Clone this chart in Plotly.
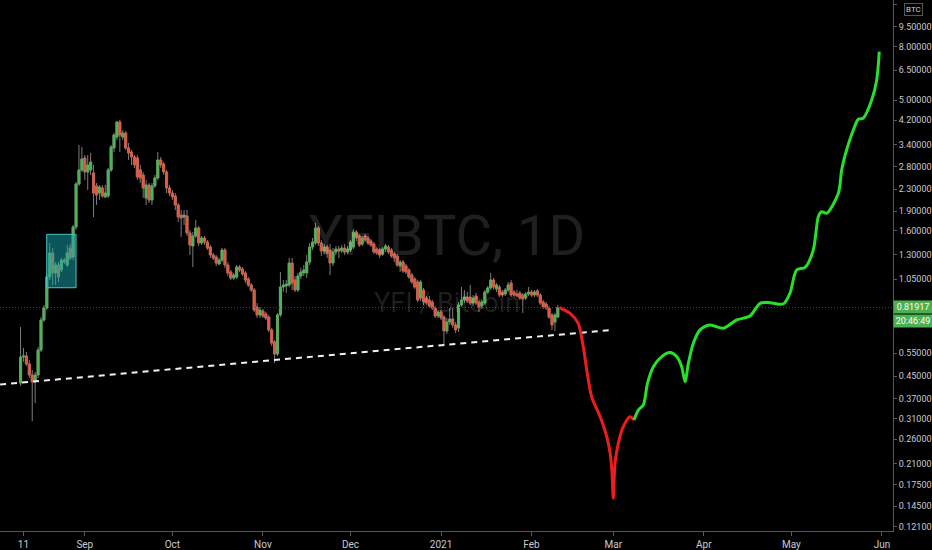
import numpy as np
import pandas as pd
import plotly.graph_objects as go

# ---------------- data ----------------
start_date = "2020-08-10"

open_ = [0.424,0.532,0.537,0.501,0.455,0.428,0.455,0.566,0.735,0.816,
         1.070,1.319,1.108,1.188,1.137,1.240,1.188,1.377,1.273,1.654,
         2.408,2.721,3.021,2.674,2.721,2.651,2.367,2.226,2.326,2.150,
         2.169,2.721,3.297,3.629,4.136,3.629,3.757,3.297,3.183,3.047,
         3.021,2.721,2.605,2.131,2.387,2.094,2.367,2.538,2.969,2.867,
         2.674,2.326,2.226,2.169,2.005,1.837,1.805,1.821,1.570,1.402,
         1.530,1.640,1.439,1.503,1.451,1.389,1.296,1.273,1.198,1.240,
         1.354,1.188,1.117,1.060,1.070,1.167,1.147,1.108,1.051,0.9975,
         0.955,0.823,0.768,0.795,0.774,0.754,0.674,0.607,0.546,0.768,
         0.980,0.989,0.9975,1.208,1.042,0.955,1.079,1.108,1.108,1.219,
         1.389,1.439,1.640,1.439,1.342,1.389,1.354,1.208,1.330,1.365,
         1.342,1.377,1.330,1.354,1.389,1.584,1.530,1.426,1.530,1.503,
         1.464,1.426,1.365,1.354,1.307,1.365,1.389,1.354,1.307,1.285,
         1.177,1.219,1.177,1.137,1.088,1.051,1.024,0.890,0.955,0.890,
         0.875,0.860,0.816,0.761,0.788,0.754,0.668,0.722,0.741,0.704,
         0.685,0.838,0.875,0.898,0.898,0.852,0.906,0.860,0.830,0.852,
         0.938,0.972,1.042,0.963,0.980,0.938,0.922,0.955,1.015,0.938,
         0.922,0.930,0.914,0.890,0.922,0.938,0.914,0.947,0.914,0.860,
         0.845,0.816,0.768,0.722,0.754]

high = [0.691,0.576,0.556,0.519,0.475,0.467,0.581,0.754,0.838,1.098,
        1.439,1.377,1.219,1.219,1.262,1.262,1.414,1.426,1.684,2.451,
        3.384,3.326,3.101,3.101,3.156,2.842,2.429,2.387,2.387,2.387,
        2.769,3.384,3.757,4.172,4.209,3.857,3.824,3.444,3.239,3.101,
        3.101,2.842,2.674,2.494,2.429,2.429,2.605,3.183,3.047,2.917,
        2.721,2.387,2.285,2.226,2.040,1.919,1.919,1.919,1.612,1.584,
        1.759,1.669,1.530,1.530,1.477,1.414,1.319,1.296,1.262,1.377,
        1.377,1.219,1.137,1.108,1.188,1.188,1.167,1.127,1.070,1.015,
        0.972,0.852,0.823,0.809,0.788,0.768,0.685,0.617,0.781,1.117,
        1.042,1.042,1.262,1.262,1.079,1.108,1.157,1.188,1.296,1.439,
        1.503,1.713,1.669,1.477,1.426,1.414,1.426,1.377,1.402,1.402,
        1.414,1.426,1.402,1.477,1.626,1.612,1.556,1.530,1.556,1.530,
        1.490,1.451,1.389,1.377,1.389,1.426,1.414,1.377,1.330,1.307,
        1.240,1.240,1.198,1.157,1.108,1.070,1.042,1.042,0.972,0.906,
        0.906,0.875,0.830,0.802,0.802,0.768,0.748,0.816,0.816,0.722,
        0.860,0.980,0.955,0.938,0.9975,0.914,0.930,0.875,0.875,0.955,
        0.989,1.108,1.060,1.015,0.9975,0.955,0.972,1.024,1.042,0.955,
        0.955,0.947,0.930,0.938,0.980,0.955,0.955,0.963,0.930,0.875,
        0.860,0.830,0.781,0.781,0.838]

low = [0.413,0.510,0.492,0.443,0.304,0.356,0.443,0.556,0.722,0.802,
       1.042,0.9975,0.9975,1.024,1.117,1.198,1.167,1.240,1.240,1.612,
       2.367,2.674,2.494,2.285,2.605,1.805,2.005,2.094,2.131,2.131,
       2.131,2.674,3.183,3.535,3.183,3.535,3.239,2.969,2.842,2.769,
       2.494,2.429,2.131,2.005,2.040,2.005,2.326,2.494,2.769,2.605,
       2.226,2.169,2.094,1.919,1.728,1.516,1.684,1.530,1.296,1.167,
       1.503,1.402,1.414,1.414,1.354,1.262,1.240,1.177,1.188,1.219,
       1.157,1.079,1.042,1.042,1.051,1.117,1.079,1.015,0.980,0.938,
       0.788,0.748,0.748,0.748,0.735,0.662,0.586,0.505,0.537,0.754,
       0.938,0.930,0.980,0.955,0.938,0.938,1.051,1.079,1.060,1.188,
       1.354,1.414,1.402,1.285,1.307,1.262,1.088,1.177,1.296,1.262,
       1.319,1.296,1.307,1.330,1.365,1.464,1.389,1.402,1.451,1.414,
       1.389,1.307,1.296,1.262,1.285,1.330,1.307,1.262,1.219,1.167,
       1.117,1.108,1.098,1.051,1.006,0.963,0.860,0.867,0.838,0.838,
       0.816,0.802,0.748,0.748,0.735,0.591,0.651,0.704,0.685,0.656,
       0.662,0.823,0.852,0.852,0.838,0.830,0.838,0.788,0.809,0.838,
       0.922,0.955,0.955,0.938,0.898,0.898,0.906,0.938,0.898,0.898,
       0.898,0.875,0.781,0.875,0.906,0.898,0.898,0.898,0.838,0.809,
       0.802,0.741,0.674,0.668,0.748]

close = [0.532,0.537,0.501,0.455,0.428,0.455,0.566,0.735,0.816,1.070,
         1.319,1.108,1.188,1.070,1.240,1.219,1.319,1.262,1.654,2.408,
         2.721,2.995,2.674,2.842,2.917,2.226,2.188,2.346,2.169,2.226,
         2.721,3.326,3.693,4.136,3.693,3.757,3.297,3.156,3.047,2.842,
         2.560,2.538,2.326,2.387,2.094,2.367,2.538,2.969,2.842,2.674,
         2.326,2.226,2.150,2.005,1.805,1.790,1.837,1.570,1.414,1.530,
         1.640,1.439,1.503,1.451,1.377,1.296,1.262,1.208,1.240,1.354,
         1.188,1.108,1.060,1.088,1.167,1.137,1.098,1.042,0.9975,0.955,
         0.802,0.768,0.802,0.761,0.748,0.674,0.601,0.546,0.768,0.980,
         0.9975,1.006,1.208,1.015,0.955,1.079,1.117,1.137,1.219,1.389,
         1.451,1.640,1.439,1.342,1.389,1.319,1.208,1.330,1.365,1.342,
         1.377,1.330,1.365,1.451,1.584,1.503,1.414,1.503,1.477,1.439,
         1.414,1.330,1.319,1.296,1.365,1.402,1.330,1.285,1.262,1.188,
         1.219,1.127,1.117,1.070,1.024,0.980,0.875,1.024,0.860,0.852,
         0.830,0.816,0.761,0.788,0.748,0.668,0.722,0.741,0.704,0.674,
         0.838,0.875,0.898,0.867,0.852,0.890,0.852,0.823,0.860,0.938,
         0.972,1.042,0.980,0.9975,0.914,0.914,0.955,0.9975,0.914,0.914,
         0.906,0.890,0.883,0.922,0.938,0.914,0.938,0.914,0.852,0.823,
         0.816,0.754,0.704,0.768,0.81917]

# projected path (drawn by hand on the chart)
red_dates = ["2021-02-10 12:00","2021-02-14 05:00","2021-02-17 00:00","2021-02-18 17:00",
             "2021-02-19 22:00","2021-02-21 14:00","2021-02-24 12:00","2021-02-26 18:00",
             "2021-02-27 22:00","2021-02-28 12:00","2021-03-01 00:00","2021-03-01 14:00",
             "2021-03-02 17:00","2021-03-04 10:00","2021-03-06 17:00","2021-03-08 02:00"]
red_vals = [0.819,0.779,0.714,0.582,0.475,0.376,0.316,0.2655,0.2297,0.1986,0.1551,
            0.2105,0.2506,0.2897,0.316,0.3072]

green_dates = ["2021-03-08 02:00","2021-03-09 14:00","2021-03-11 07:00","2021-03-12 17:00",
               "2021-03-14 17:00","2021-03-17 14:00","2021-03-20 10:00","2021-03-22 17:00",
               "2021-03-24 10:00","2021-03-25 14:00","2021-03-26 17:00","2021-03-28 10:00",
               "2021-03-30 17:00","2021-04-03 02:00","2021-04-07 17:00","2021-04-12 07:00",
               "2021-04-16 19:00","2021-04-20 07:00","2021-04-23 17:00","2021-04-28 05:00",
               "2021-04-30 12:00","2021-05-02 19:00","2021-05-05 17:00","2021-05-08 12:00",
               "2021-05-10 05:00","2021-05-11 07:00","2021-05-13 02:00","2021-05-17 02:00",
               "2021-05-18 05:00","2021-05-19 10:00","2021-05-22 05:00","2021-05-23 22:00",
               "2021-05-25 14:00","2021-05-28 12:00","2021-05-30 05:00","2021-05-31 02:00"]
green_vals = [0.3072,0.335,0.350,0.423,0.489,0.534,0.553,0.534,0.489,0.429,0.504,0.600,
              0.674,0.704,0.684,0.735,0.761,0.850,0.855,0.845,0.928,1.137,1.164,1.354,
              1.810,1.891,1.865,2.220,2.721,3.101,3.857,4.235,4.272,5.01,5.967,7.638]

# support trend line (dashed)
trend_dates = ["2020-08-03 00:00", "2021-02-28 14:00"]
trend_vals = [0.4185, 0.674]

# highlighted box
box_dates = ["2020-08-18 23:00", "2020-08-29 00:00"]
box_vals = [0.974, 1.552]

# axes
x_range = ["2020-08-02 23:00", "2021-06-04 19:00"]
y_range_vals = [0.1166, 11.99]
x_tickvals = ["2020-08-11","2020-09-01","2020-10-01","2020-11-01","2020-12-01","2021-01-01",
              "2021-02-01","2021-03-01","2021-04-01","2021-05-01","2021-06-01"]
x_ticktext = ["11","Sep","Oct","Nov","Dec","2021","Feb","Mar","Apr","May","Jun"]
y_tickvals = [0.121,0.145,0.175,0.21,0.26,0.31,0.37,0.45,0.55,1.05,1.30,1.60,
              1.90,2.30,2.80,3.40,4.20,5.00,6.50,8.00,9.50,11.5]
y_ticktext = ["%.5f" % v for v in y_tickvals]

last_time = "20:46:49"

# ---------------- figure ----------------
dates = pd.date_range(start_date, periods=len(close), freq="D")
UP = "#4fb553"
DN = "#e35b3e"
WICK = "#7d7d80"
BG = "#000000"
AX = "#c7cad1"

body_hi = [max(o, c) for o, c in zip(open_, close)]
body_lo = [min(o, c) for o, c in zip(open_, close)]

fig = go.Figure()

# wicks
fig.add_trace(go.Candlestick(
    x=dates, open=open_, high=high, low=low, close=close,
    increasing=dict(line=dict(color=WICK, width=1), fillcolor=WICK),
    decreasing=dict(line=dict(color=WICK, width=1), fillcolor=WICK),
    whiskerwidth=0, showlegend=False, hoverinfo="skip"))
# bodies
fig.add_trace(go.Candlestick(
    x=dates, open=open_, high=body_hi, low=body_lo, close=close,
    increasing=dict(line=dict(color=UP, width=0.5), fillcolor=UP),
    decreasing=dict(line=dict(color=DN, width=0.5), fillcolor=DN),
    whiskerwidth=0, showlegend=False, hoverinfo="skip"))

# last price dotted line
fig.add_trace(go.Scatter(
    x=x_range, y=[close[-1], close[-1]], mode="lines",
    line=dict(color="#4a4a4a", width=1, dash="1px,2px"),
    showlegend=False, hoverinfo="skip"))

# trend line
fig.add_trace(go.Scatter(
    x=trend_dates, y=trend_vals, mode="lines",
    line=dict(color="#f2f2f2", width=2, dash="6px,5px"),
    showlegend=False, hoverinfo="skip"))

# highlight box
fig.add_trace(go.Scatter(
    x=[box_dates[0], box_dates[1], box_dates[1], box_dates[0], box_dates[0]],
    y=[box_vals[0], box_vals[0], box_vals[1], box_vals[1], box_vals[0]],
    mode="lines", fill="toself", fillcolor="rgba(24,170,175,0.5)",
    line=dict(color="#49c4c4", width=1),
    showlegend=False, hoverinfo="skip"))

# projected path
fig.add_trace(go.Scatter(
    x=red_dates, y=red_vals, mode="lines",
    line=dict(color="#f01c1c", width=3, shape="spline", smoothing=0.8),
    showlegend=False, hoverinfo="skip"))
fig.add_trace(go.Scatter(
    x=green_dates, y=green_vals, mode="lines",
    line=dict(color="#27e02a", width=3, shape="spline", smoothing=0.8),
    showlegend=False, hoverinfo="skip"))

ann = []
# watermark
ann.append(dict(text="YFIBTC, 1D", xref="paper", yref="paper", x=0.5, y=0.556,
                showarrow=False, xanchor="center", yanchor="middle",
                font=dict(family="Roboto", size=56, color="rgba(255,255,255,0.12)")))
ann.append(dict(text="YFI / Bitcoin", xref="paper", yref="paper", x=0.5, y=0.43,
                showarrow=False, xanchor="center", yanchor="middle",
                font=dict(family="Roboto", size=27, color="rgba(255,255,255,0.12)")))
# price labels
ann.append(dict(text="%.5f" % close[-1], xref="paper", yref="y", x=1.0,
                y=float(np.log10(close[-1])), xanchor="left", yanchor="middle",
                showarrow=False, bgcolor="#4caf50", borderpad=1, width=36,
                font=dict(family="Roboto", size=9, color="#ffffff"), yshift=1))
ann.append(dict(text=last_time, xref="paper", yref="y", x=1.0,
                y=float(np.log10(close[-1])), xanchor="left", yanchor="middle",
                showarrow=False, bgcolor="#4caf50", borderpad=1, width=36,
                font=dict(family="Roboto", size=9, color="#ffffff"), yshift=-13))
# currency label
ann.append(dict(text="BTC", xref="paper", yref="paper", x=1.0225, y=0.982,
                xanchor="center", yanchor="middle", showarrow=False,
                bgcolor=BG, bordercolor="#555555", borderwidth=1, borderpad=1,
                font=dict(family="Roboto", size=8, color="#d0d0d0")))

fig.update_layout(
    width=932, height=550,
    margin=dict(l=0, r=39, t=0, b=19),
    paper_bgcolor=BG, plot_bgcolor=BG,
    showlegend=False,
    annotations=ann,
    boxmode="overlay", boxgap=0.28, boxgroupgap=0,
    xaxis=dict(
        type="date", range=x_range, rangeslider=dict(visible=False),
        tickvals=x_tickvals, ticktext=x_ticktext, automargin=False,
        showgrid=False, zeroline=False,
        showline=True, linecolor="#555760", linewidth=1,
        ticks="outside", ticklen=4, tickcolor="#555760",
        tickfont=dict(family="Roboto", size=10, color=AX),
    ),
    yaxis=dict(
        type="log", side="right", automargin=False,
        range=[float(np.log10(y_range_vals[0])), float(np.log10(y_range_vals[1]))],
        tickvals=y_tickvals, ticktext=y_ticktext,
        showgrid=False, zeroline=False,
        showline=True, linecolor="#555760", linewidth=1,
        ticks="outside", ticklen=3, tickcolor="#555760",
        ticklabelstandoff=0,
        tickfont=dict(family="Roboto", size=9, color=AX),
    ),
)

fig.write_html("out.html", config={"displayModeBar": False},
               post_script="document.body.style.margin='0';document.body.style.background='#000';")
